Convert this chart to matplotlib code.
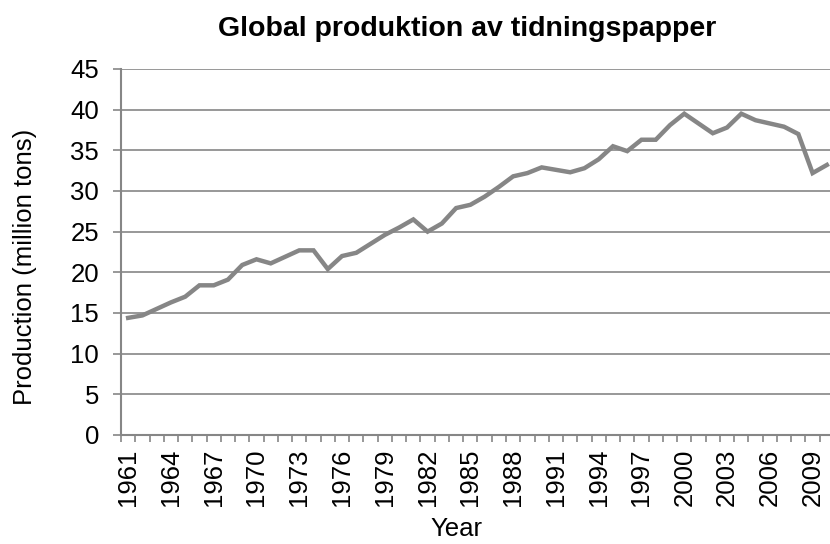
import numpy as np
import matplotlib.pyplot as plt

plt.rcParams['font.family'] = ['Liberation Sans', 'DejaVu Sans']

# --- Data ---
years = list(range(1961, 2011))
production = [14.4, 14.7, 15.5, 16.3, 17.0, 18.4, 18.4, 19.1, 20.9, 21.6,
              21.1, 21.9, 22.7, 22.7, 20.4, 22.0, 22.4, 23.5, 24.6, 25.5,
              26.5, 25.0, 26.0, 27.9, 28.3, 29.3, 30.5, 31.8, 32.2, 32.9,
              32.6, 32.3, 32.8, 33.9, 35.5, 34.9, 36.3, 36.3, 38.1, 39.5,
              38.3, 37.1, 37.8, 39.5, 38.7, 38.3, 37.9, 37.0, 32.2, 33.2]
label_years = years[::3]

GRAY = '#868686'
FS = 18.5

fig = plt.figure(figsize=(8.3, 5.44), dpi=100)
ax = fig.add_axes([0.1458, 0.2004, 0.859, 0.6728])

x = np.arange(len(years))
ax.plot(x, production, color=GRAY, linewidth=3.2, solid_joinstyle='miter', zorder=3)

# --- Axes ---
ax.set_xlim(-0.5, len(years) - 0.5)
ax.set_ylim(0, 45)
ax.set_yticks(range(0, 50, 5))
ax.yaxis.grid(True, color=GRAY, linewidth=1.2)
ax.set_axisbelow(True)

ax.set_xticks([years.index(y) for y in label_years])
ax.set_xticklabels([str(y) for y in label_years], rotation=90)
ax.set_xticks(np.arange(-0.5, len(years), 1), minor=True)
ax.tick_params(axis='x', which='major', length=0, pad=10, labelsize=FS)
ax.tick_params(axis='x', which='minor', length=5, width=1.2, color=GRAY, direction='out')
ax.tick_params(axis='y', length=5.8, width=1.2, color=GRAY, direction='out', labelsize=FS, pad=10)

for side in ['top', 'right']:
    ax.spines[side].set_visible(False)
for side in ['left', 'bottom']:
    ax.spines[side].set_color(GRAY)
    ax.spines[side].set_linewidth(1.5)

ax.set_xlabel('Year', fontsize=FS)
ax.xaxis.set_label_coords(0.47, -0.224)
ax.set_ylabel('Production (million tons)', fontsize=FS)
ax.yaxis.set_label_coords(-0.118, 0.46)
fig.text(0.563, 0.947, 'Global produktion av tidningspapper', ha='center', va='center',
         fontsize=20.5, fontweight='bold')

plt.savefig('out.png', dpi=100)
